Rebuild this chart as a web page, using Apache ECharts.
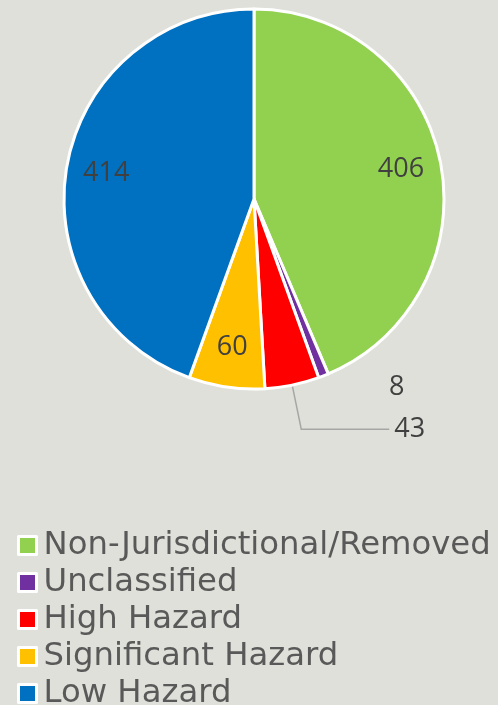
<!DOCTYPE html>
<html>
<head>
<meta charset="utf-8">
<script src="https://cdn.jsdelivr.net/npm/echarts@6/dist/echarts.min.js"></script>
<style>
html,body{margin:0;padding:0;background:#e0e0da;}
#chart{width:498px;height:705px;}
</style>
</head>
<body>
<div id="chart"></div>
<script>
const categories = ['Non-Jurisdictional/Removed', 'Unclassified', 'High Hazard', 'Significant Hazard', 'Low Hazard'];
const values = [406, 8, 43, 60, 414];
const colors = ['#92d050', '#7030a0', '#ff0000', '#ffc000', '#0070c0'];

const total = values.reduce((a, b) => a + b, 0);
const isSmall = v => v / total < 0.05;

const chart = echarts.init(document.getElementById('chart'));

const labelFont = { fontFamily: 'Open Sans', fontSize: 27, color: '#404040' };

const pieData = categories.map((name, i) => ({
  name: name,
  value: values[i],
  itemStyle: { color: colors[i] },
  label: isSmall(values[i]) ? { show: true, position: 'outside' } : { show: false },
  labelLine: isSmall(values[i])
    ? (name === 'High Hazard'
        ? { show: true, length: 45, length2: 88 }
        : { show: false, length: 12, length2: 56 })
    : { show: false }
}));

const ringData = categories.map((name, i) => ({
  name: name,
  value: values[i],
  label: { show: !isSmall(values[i]) }
}));

chart.setOption({
  backgroundColor: '#e0e0da',
  animation: false,
  legend: {
    orient: 'vertical',
    left: 17,
    top: 527,
    height: 220,
    padding: 0,
    itemWidth: 18,
    itemHeight: 18,
    itemGap: 0,
    icon: 'rect',
    selectedMode: false,
    itemStyle: { borderColor: '#ffffff', borderWidth: 3 },
    textStyle: { fontFamily: 'DejaVu Sans', fontSize: 32.3, color: '#595959', lineHeight: 37, padding: [0, 0, 0, 2] },
    data: categories
  },
  series: [
    {
      type: 'pie',
      center: [254, 199],
      radius: 190,
      startAngle: 90,
      clockwise: true,
      avoidLabelOverlap: true,
      itemStyle: { borderColor: '#ffffff', borderWidth: 3 },
      label: Object.assign({ formatter: '{c}' }, labelFont),
      labelLine: { lineStyle: { color: '#a6a6a6', width: 1.5 }, smooth: false },
      emphasis: { disabled: true },
      data: pieData
    },
    {
      type: 'pie',
      center: [254, 199],
      radius: [104, 190],
      startAngle: 90,
      clockwise: true,
      silent: true,
      itemStyle: { color: 'rgba(0,0,0,0)', borderWidth: 0 },
      label: Object.assign({ position: 'inside', formatter: '{c}' }, labelFont),
      labelLine: { show: false },
      emphasis: { disabled: true },
      data: ringData
    }
  ]
});
</script>
</body>
</html>
